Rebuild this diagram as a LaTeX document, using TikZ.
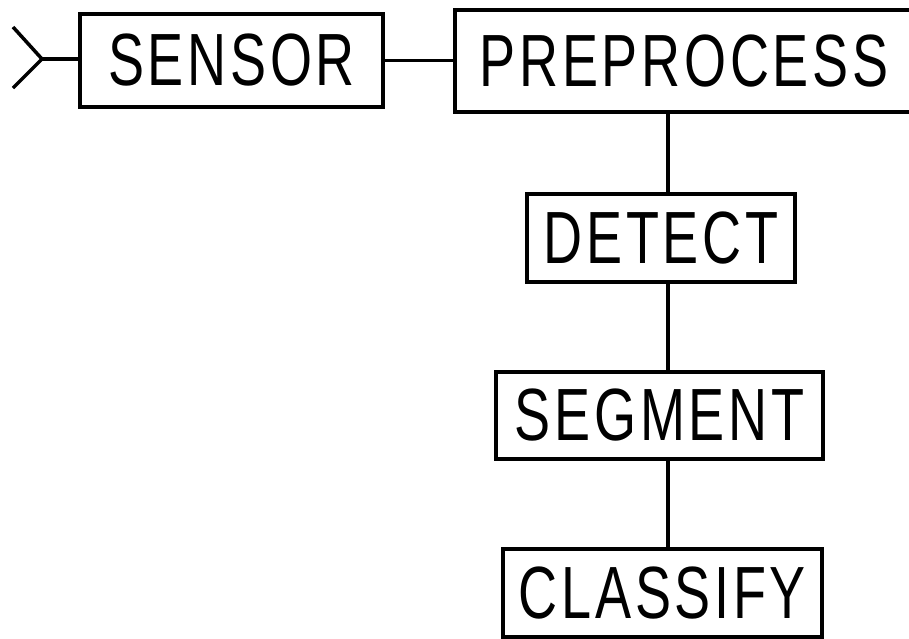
\documentclass[tikz,border=0pt]{standalone}
\usepackage{fontspec}
\setmainfont{Liberation Sans}[FakeStretch=0.73,LetterSpace=5]
\usetikzlibrary{positioning}

\begin{document}
\begin{tikzpicture}[x=1pt,y=-1pt,
  stage/.style={draw, line width=3.5pt, inner sep=0pt, font=\fontsize{74}{80}\selectfont},
  wire/.style={line width=3.5pt}]

\useasboundingbox (0,0) rectangle (909,638);

% receiving antenna
\coordinate (tipup) at (13,27);
\coordinate (tiplow) at (13,88);
\coordinate (feed) at (42,59);

\node [stage, minimum width=303pt, minimum height=93pt] (sensor) at (231.5,60.5) {SENSOR};
\node [stage, minimum width=458pt, minimum height=102pt] (preprocess) at (684,61) {PREPROCESS};
\node [stage, minimum width=268pt, minimum height=88pt] (detect) at (661,238) {DETECT};
\node [stage, minimum width=327pt, minimum height=87pt] (segment) at (659.5,415.5) {SEGMENT};
\node [stage, minimum width=319pt, minimum height=88pt] (classify) at (662.5,593) {CLASSIFY};

\coordinate (spine) at (668,0);

\draw [wire] (tipup) -- (feed) -- (tiplow);
\draw [wire] (feed) -- (feed -| sensor.west);
\draw [wire] (sensor.east) -- (sensor.east -| preprocess.west);
\draw [wire] (preprocess.south -| spine) -- (detect.north -| spine);
\draw [wire] (detect.south -| spine) -- (segment.north -| spine);
\draw [wire] (segment.south -| spine) -- (classify.north -| spine);

\end{tikzpicture}
\end{document}
